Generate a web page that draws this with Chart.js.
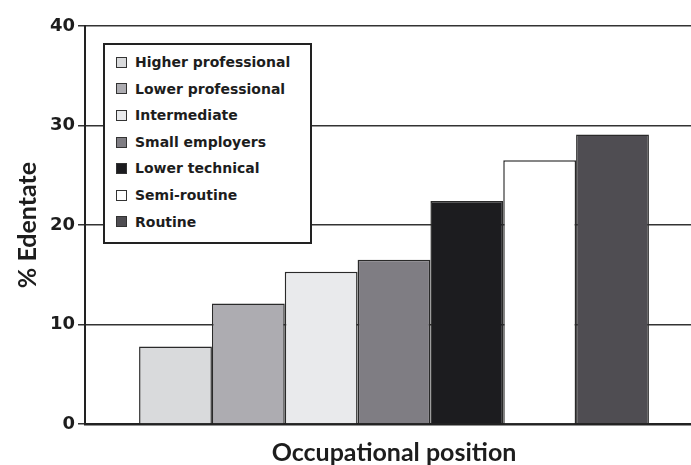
<!DOCTYPE html>
<html>
<head>
<meta charset="utf-8">
<script src="https://cdn.jsdelivr.net/npm/chart.js@4"></script>
<style>
  body { margin: 0; background: #fff; overflow: hidden; }
  #wrap { position: relative; width: 703px; height: 465px; }
  #legend {
    position: absolute; left: 103px; top: 43px; width: 205px; height: 193px;
    border: 2px solid #222; background: #fff; padding-top: 4px; box-sizing: content-box;
    font: bold 14px "DejaVu Sans", sans-serif; color: #1d1d1d;
  }
  .item { height: 26.6px; line-height: 26.6px; display: flex; align-items: center; }
  .box { width: 9px; height: 9px; border: 1.5px solid #333; margin: 0 8px 0 11px; }
</style>
</head>
<body>
<div id="wrap">
  <canvas id="chart" width="703" height="465"></canvas>
  <div id="legend"></div>
</div>
<script>
// Edentate percentage per occupational class
const categories = ['Higher professional', 'Lower professional', 'Intermediate', 'Small employers', 'Lower technical', 'Semi-routine', 'Routine'];
const edentate = [7.8, 12.1, 15.3, 16.5, 22.4, 26.5, 29.1];
const barColours = ['#d9dadc', '#adacb1', '#e9eaec', '#7f7d83', '#1c1c1f', '#ffffff', '#4f4d52'];
const yTicks = [0, 10, 20, 30, 40];

const datasets = categories.map((c, i) => ({
  label: c,
  data: [edentate[i]],
  backgroundColor: barColours[i],
  borderColor: '#2a2a2a',
  borderWidth: 1.5,
  barPercentage: 1,
  categoryPercentage: 0.825
}));

const chart = new Chart(document.getElementById('chart'), {
  type: 'bar',
  data: { labels: [''], datasets: datasets },
  options: {
    responsive: false,
    animation: false,
    layout: { padding: { top: 26, right: 0, bottom: 0, left: 0 } },
    plugins: { legend: { display: false }, tooltip: { enabled: false } },
    scales: {
      x: {
        grid: { display: false },
        ticks: { display: false },
        border: { display: true, color: '#222', width: 2.5 },
        title: { display: true, text: 'Occupational position', color: '#1d1d1d',
                 font: { family: 'Lato', size: 25, weight: 'bold', lineHeight: 1 }, padding: 0 },
        afterFit: s => { s.height = 41; }
      },
      y: {
        min: 0, max: 40,
        afterBuildTicks: s => { s.ticks = yTicks.map(v => ({ value: v })); },
        ticks: { color: '#1d1d1d', padding: 3, font: { family: 'DejaVu Sans', size: 18, weight: 'bold' } },
        grid: { color: '#333', lineWidth: 1.5, tickLength: 7, tickColor: '#333' },
        border: { display: true, color: '#222', width: 2 },
        title: { display: true, text: '% Edentate', color: '#1d1d1d',
                 font: { family: 'Lato', size: 25, weight: 'bold', lineHeight: 1.2 }, padding: { top: 13, bottom: 0 } },
        afterFit: s => { s.width = 85; }
      }
    }
  }
});

// legend built from the datasets
const leg = document.getElementById('legend');
chart.data.datasets.forEach(d => {
  const row = document.createElement('div');
  row.className = 'item';
  row.innerHTML = `<span class="box" style="background:${d.backgroundColor}"></span>${d.label}`;
  leg.appendChild(row);
});
</script>
</body>
</html>
